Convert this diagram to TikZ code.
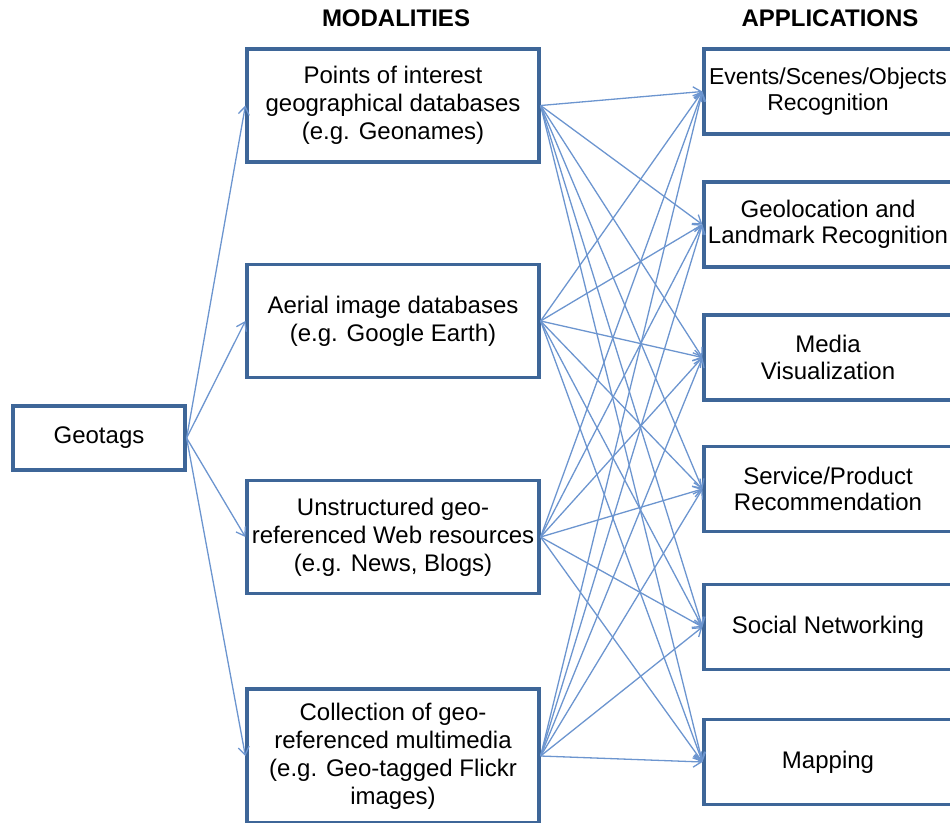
\documentclass[tikz,border=0pt]{standalone}
\usepackage{fontspec}
\setmainfont{Liberation Sans}
\usepackage{tikz}
\usetikzlibrary{arrows.meta}

\definecolor{boxblue}{HTML}{3E6698}
\definecolor{linkblue}{HTML}{6C95CF}

\begin{document}
\begin{tikzpicture}[x=1pt, y=-1pt,
    box/.style={draw=boxblue, line width=3.2pt, fill=white, align=center,
        inner sep=0pt, font=\fontsize{24}{28}\selectfont},
    modbox/.style={box, minimum width=292pt, minimum height=113pt},
    appbox/.style={box, minimum width=248pt, minimum height=85pt,
        font=\fontsize{24}{26.5}\selectfont},
    link/.style={draw=linkblue, line width=1.3pt,
        -{Straight Barb[length=8pt, width=11pt, line width=1.3pt]}},
    title/.style={font=\fontsize{24}{28}\selectfont\bfseries}]
    \useasboundingbox (0,0) rectangle (950,822);

    \node[title] (T1) at (396, 18) {MODALITIES};
    \node[title] (T2) at (830, 18) {APPLICATIONS};

    \node[box, minimum width=172pt, minimum height=64pt] (G) at (99, 438) {Geotags};

    \node[modbox] (M1) at (393, 105.5) {Points of interest\\geographical databases\\(e.g. Geonames)};
    \node[modbox] (M2) at (393, 321) {Aerial image databases\\(e.g. Google Earth)};
    \node[modbox] (M3) at (393, 537) {Unstructured geo-\\referenced Web resources\\(e.g. News, Blogs)};
    \node[modbox, minimum height=134pt] (M4) at (393, 756) {Collection of geo-\\referenced multimedia\\(e.g. Geo-tagged Flickr\\images)};

    \node[appbox, font=\fontsize{23}{26}\selectfont] (A1) at (828, 91.5) {Events/Scenes/Objects\\Recognition};
    \node[appbox] (A2) at (828, 224.5) {Geolocation and\\Landmark Recognition};
    \node[appbox] (A3) at (828, 357.5) {Media\\Visualization};
    \node[appbox] (A4) at (828, 489) {Service/Product\\Recommendation};
    \node[appbox] (A5) at (828, 627) {Social Networking};
    \node[appbox] (A6) at (828, 762) {Mapping};

    \draw [link] (G.east) -- (M1.west);
    \draw [link] (G.east) -- (M2.west);
    \draw [link] (G.east) -- (M3.west);
    \draw [link] (G.east) -- (M4.west);

    \draw [link] (M1.east) -- (A1.west);
    \draw [link] (M1.east) -- (A2.west);
    \draw [link] (M1.east) -- (A3.west);
    \draw [link] (M1.east) -- (A4.west);
    \draw [link] (M1.east) -- (A5.west);
    \draw [link] (M1.east) -- (A6.west);

    \draw [link] (M2.east) -- (A1.west);
    \draw [link] (M2.east) -- (A2.west);
    \draw [link] (M2.east) -- (A3.west);
    \draw [link] (M2.east) -- (A4.west);
    \draw [link] (M2.east) -- (A5.west);
    \draw [link] (M2.east) -- (A6.west);

    \draw [link] (M3.east) -- (A1.west);
    \draw [link] (M3.east) -- (A2.west);
    \draw [link] (M3.east) -- (A3.west);
    \draw [link] (M3.east) -- (A4.west);
    \draw [link] (M3.east) -- (A5.west);
    \draw [link] (M3.east) -- (A6.west);

    \draw [link] (M4.east) -- (A1.west);
    \draw [link] (M4.east) -- (A2.west);
    \draw [link] (M4.east) -- (A3.west);
    \draw [link] (M4.east) -- (A4.west);
    \draw [link] (M4.east) -- (A5.west);
    \draw [link] (M4.east) -- (A6.west);

\end{tikzpicture}
\end{document}
